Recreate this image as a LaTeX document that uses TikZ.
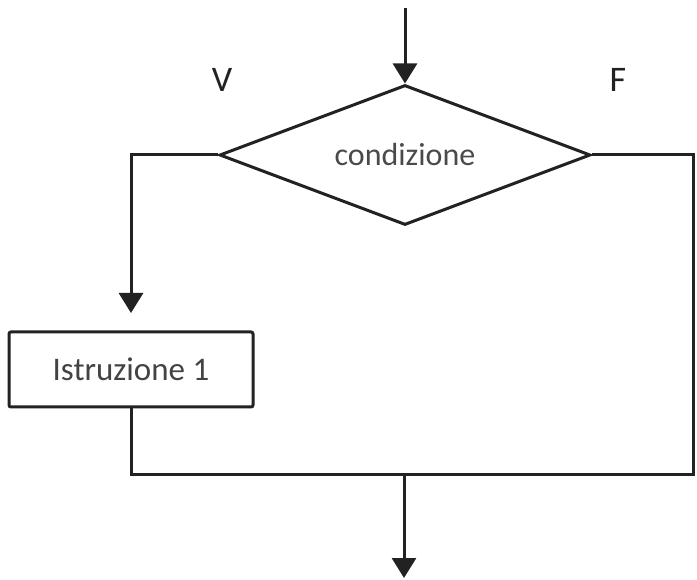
\documentclass[tikz,border=0pt]{standalone}
\usepackage{fontspec}
\setmainfont{Carlito}
\usetikzlibrary{shapes.geometric,arrows.meta}
\definecolor{ink}{HTML}{222222}
\definecolor{txt}{HTML}{4A4A4A}
\begin{document}
\begin{tikzpicture}[x=1pt,y=-1pt,
  flow/.style={draw=ink,line width=3pt},
  arr/.style={flow,-{Triangle[width=24pt,length=20pt]}},
  decision/.style={diamond,aspect=2.65,draw=ink,line width=3pt,minimum width=371pt,minimum height=140pt,
    inner sep=0pt,font=\fontsize{32}{36}\selectfont,text=txt},
  stepbox/.style={rectangle,draw=ink,line width=3pt,rounded corners=2pt,minimum width=244pt,
    minimum height=75pt,inner sep=0pt,font=\fontsize{33}{38}\selectfont,text=ink!85},
  branch/.style={font=\fontsize{36}{40}\selectfont,text=ink}]
  \useasboundingbox (0,0) rectangle (697,580);

  % nodes
  \node[decision] (cond) at (405,155) {condizione};
  \node[stepbox] (istr) at (131,369.5) {Istruzione 1};
  \node[branch] (v) at (222,80) {V};
  \node[branch] (f) at (618,80) {F};

  % free ends and corners
  \coordinate (in) at (405,8);
  \coordinate (vtip) at (131,313);
  \coordinate (corner) at (693,474);
  \coordinate (merge) at (404,474);
  \coordinate (out) at (404,578);

  % connectors
  \draw[arr] (in) -- (cond.north);
  \draw[arr] (cond.west) -| (vtip);
  \draw[flow] (istr.south) |- (corner) |- (cond.east);
  \draw[arr] (merge) -- (out);
\end{tikzpicture}
\end{document}
